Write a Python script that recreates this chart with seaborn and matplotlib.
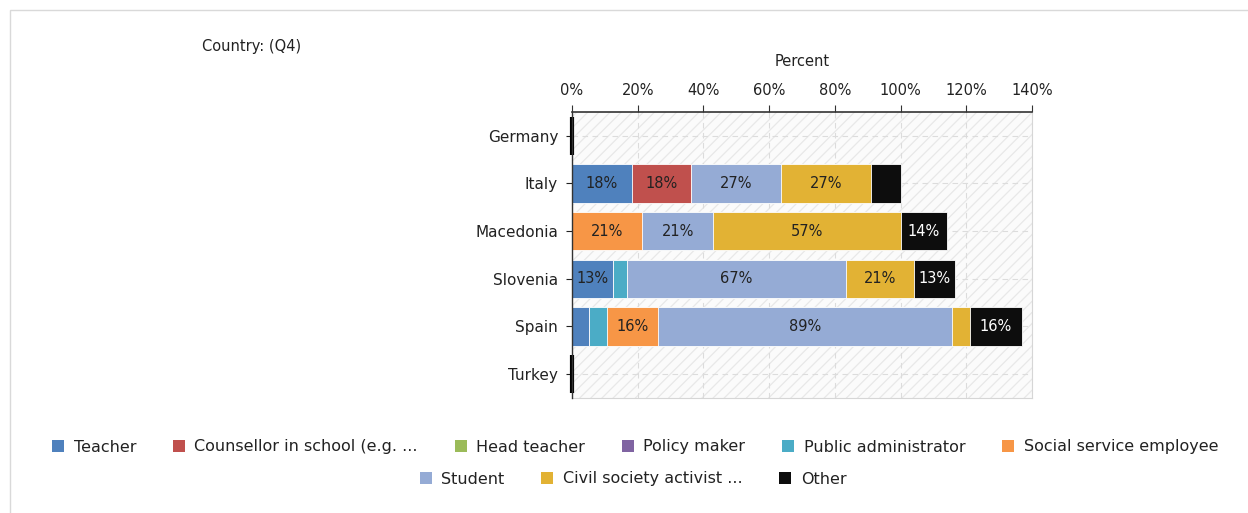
import numpy as np
import pandas as pd
import seaborn as sns
import matplotlib.pyplot as plt
from matplotlib.patches import Patch, Rectangle

countries = ['Germany', 'Italy', 'Macedonia', 'Slovenia', 'Spain', 'Turkey']
roles = ['Teacher', 'Counsellor in school (e.g. ...', 'Head teacher', 'Policy maker',
         'Public administrator', 'Social service employee', 'Student',
         'Civil society activist ...', 'Other']
colors = ['#4f81bd', '#c0504d', '#9bbb59', '#8064a2', '#4bacc6', '#f79646',
          '#95abd5', '#e2b234', '#0d0d0d']

# percent of respondents per role, one list per country (same order as roles)
germany = [0, 0, 0, 0, 0, 0, 0, 0, 0]
italy = [18.18, 18.18, 0, 0, 0, 0, 27.27, 27.27, 9.09]
macedonia = [0, 0, 0, 0, 0, 21.43, 21.43, 57.14, 14.29]
slovenia = [12.5, 0, 0, 0, 4.17, 0, 66.67, 20.83, 12.5]
spain = [5.26, 0, 0, 0, 5.26, 15.79, 89.47, 5.26, 15.79]
turkey = [0, 0, 0, 0, 0, 0, 0, 0, 0]

x_ticks = [0, 20, 40, 60, 80, 100, 120, 140]

df = pd.DataFrame([germany, italy, macedonia, slovenia, spain, turkey],
                  columns=roles, index=countries)
cum = df.cumsum(axis=1)

sns.set_style('white')
plt.rcParams['font.family'] = ['DejaVu Sans']
plt.rcParams['hatch.linewidth'] = 0.9

fig = plt.figure(figsize=(12.48, 5.13), dpi=100)
ax = fig.add_axes([0.4583, 0.2242, 0.3686, 0.5575])
ax.set_facecolor('#fbfbfb')

# stacked bars: draw cumulative totals from last role to first
for i in range(len(roles) - 1, -1, -1):
    d = pd.DataFrame({'country': countries, 'val': cum[roles[i]].values})
    sns.barplot(data=d, x='val', y='country', color=colors[i], orient='h',
                width=0.8, ax=ax, saturation=1, edgecolor='white', linewidth=0.6,
                order=countries, zorder=3)

# faint diagonal hatch on the plot background
ax.patch.set_hatch('///')
ax.patch.set_edgecolor('#e8e8e8')
ax.patch.set_linewidth(0)

# empty rows get a black stub at zero
totals = df.sum(axis=1)
for r, c in enumerate(countries):
    if totals[c] == 0:
        ax.vlines(0, r - 0.4, r + 0.4, color='black', linewidth=3, zorder=6, clip_on=False)

# segment labels
for r, c in enumerate(countries):
    for i, role in enumerate(roles):
        v = df.loc[c, role]
        if v >= 10:
            mid = cum.loc[c, role] - v / 2
            col = 'white' if role == 'Other' else '#222222'
            ax.text(mid, r, f'{int(v + 0.5)}%', ha='center', va='center', fontsize=10.5,
                    color=col, zorder=5)

ax.set_xlim(0, 140)
ax.set_ylim(5.5, -0.5)
ax.set_xticks(x_ticks)
ax.set_xticklabels([f'{t}%' for t in x_ticks], fontsize=10.5, color='#222222')
ax.xaxis.tick_top()
ax.xaxis.set_label_position('top')
ax.set_xlabel('Percent', fontsize=10.5, color='#222222', labelpad=12)
ax.set_ylabel('')
ax.tick_params(axis='y', labelsize=11, colors='#222222', left=True, length=4, pad=6)
ax.tick_params(axis='x', top=True, length=5, color='#333333', pad=5)

ax.grid(True, axis='both', linestyle=(0, (5, 4)), color='#dcdcdc', linewidth=0.8, zorder=1)
ax.set_axisbelow(True)
for s in ['right', 'bottom']:
    ax.spines[s].set_visible(True)
    ax.spines[s].set_color('#d6d6d6')
    ax.spines[s].set_linewidth(0.8)
ax.spines['top'].set_color('#333333')
ax.spines['top'].set_linewidth(1.2)
ax.spines['left'].set_color('#333333')
ax.spines['left'].set_linewidth(1.0)
ax.spines['left'].set_zorder(6)

fig.text(202 / 1248, 1 - 46 / 513, 'Country: (Q4)', fontsize=10.5, color='#222222',
         va='center', ha='left')

# outer frame
fig.patches.append(Rectangle((10 / 1248, -0.1), 1.2, 1 - 10 / 513 + 0.1,
                             transform=fig.transFigure, fill=False,
                             edgecolor='#d9d9d9', linewidth=1))

handles = [Patch(facecolor=c, edgecolor='none') for c in colors]
leg_kw = dict(frameon=False, fontsize=11.5, handlelength=0.75, handleheight=0.75,
              handletextpad=0.6, columnspacing=2.3, labelcolor='#222222')
fig.legend(handles[:6], roles[:6], ncol=6, loc='center',
           bbox_to_anchor=(635 / 1248, 1 - 447 / 513), **leg_kw)
fig.legend(handles[6:], roles[6:], ncol=3, loc='center',
           bbox_to_anchor=(633 / 1248, 1 - 479 / 513), **leg_kw)

fig.savefig('out.png', dpi=100)
